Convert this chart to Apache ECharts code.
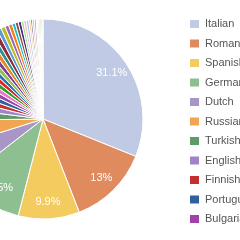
<!DOCTYPE html>
<html>
<head>
<meta charset="utf-8">
<script src="https://cdn.jsdelivr.net/npm/echarts@6/dist/echarts.min.js"></script>
<style>
  html, body { margin: 0; padding: 0; background: #fff; }
  #chart { width: 240px; height: 240px; }
</style>
</head>
<body>
<div id="chart"></div>
<script>
// languages, share in tenths of a percent (sum = 1000)
const languages = [
  'Italian', 'Romanian', 'Spanish', 'German', 'Dutch', 'Russian',
  'Turkish', 'English', 'Finnish', 'Portuguese', 'Bulgarian',
  'Greek', 'Polish', 'Swedish', 'Hungarian', 'Czech', 'Danish',
  'Croatian', 'Slovak', 'Norwegian', 'Serbian', 'Lithuanian', 'Slovenian',
  'Latvian', 'Estonian', 'Catalan', 'Ukrainian', 'Albanian', 'Macedonian',
  'Icelandic', 'Irish', 'Maltese', 'Basque', 'Galician', 'Welsh',
  'Bosnian', 'Luxembourgish', 'Armenian', 'Georgian', 'Belarusian'
];
const shares = [
  311, 130, 99, 105, 56, 47,
  22, 19, 16, 15, 14,
  13, 12, 11, 10, 10, 9,
  9, 8, 8, 7, 7, 6,
  6, 5, 5, 5, 4, 4,
  4, 3, 3, 3, 3, 2,
  2, 2, 2, 2, 1
];
const legendNames = languages.slice(0, 11);

const colors = [
  '#c0cae5', '#e08b5e', '#f4cb5f', '#8dbf91', '#a896c6', '#f2a551',
  '#5e9a6a', '#a283c9', '#c4302d', '#2f61a0', '#a043a8',
  '#e377c2', '#2ca02c', '#d62728', '#1f77b4', '#9bbb59', '#7c3f8f',
  '#e58a2c', '#2f8f8f', '#8c2d3c', '#5b9bd5', '#bcbd22', '#9467bd',
  '#ff7f0e', '#17becf', '#8c564b', '#4b2a7b', '#98df8a', '#f7b6d2',
  '#aec7e8', '#ffbb78', '#7f7f7f', '#c5b0d5', '#c49c94', '#dbdb8d',
  '#9edae5', '#ff9896', '#b5cf6b', '#e7ba52', '#d6616b'
];

const pieData = languages.map((n, i) => ({ name: n, value: shares[i] }));

const chart = echarts.init(document.getElementById('chart'), null, { renderer: 'canvas' });
chart.setOption({
  animation: false,
  color: colors,
  legend: {
    orient: 'vertical',
    left: 188,
    top: 18,
    padding: 0,
    itemWidth: 11,
    itemHeight: 10,
    itemGap: 7.5,
    icon: 'rect',
    data: legendNames,
    textStyle: { fontFamily: 'Liberation Sans', fontSize: 11, color: '#555' }
  },
  series: [
    {
      type: 'pie',
      center: [43, 119],
      radius: [0, 100],
      startAngle: 90,
      clockwise: true,
      data: pieData,
      itemStyle: { borderColor: '#fff', borderWidth: 1 },
      label: { show: false },
      labelLine: { show: false },
      emphasis: { disabled: true }
    },
    {
      // label ring only
      type: 'pie',
      center: [43, 119],
      radius: [60, 100],
      startAngle: 90,
      clockwise: true,
      silent: true,
      data: pieData,
      itemStyle: { color: 'rgba(0,0,0,0)', borderWidth: 0 },
      label: {
        show: true,
        position: 'inside',
        color: '#fff',
        fontFamily: 'Liberation Sans',
        fontSize: 11,
        formatter: p => (p.percent >= 5 ? p.percent + '%' : '')
      },
      labelLine: { show: false },
      emphasis: { disabled: true }
    }
  ]
});
</script>
</body>
</html>
